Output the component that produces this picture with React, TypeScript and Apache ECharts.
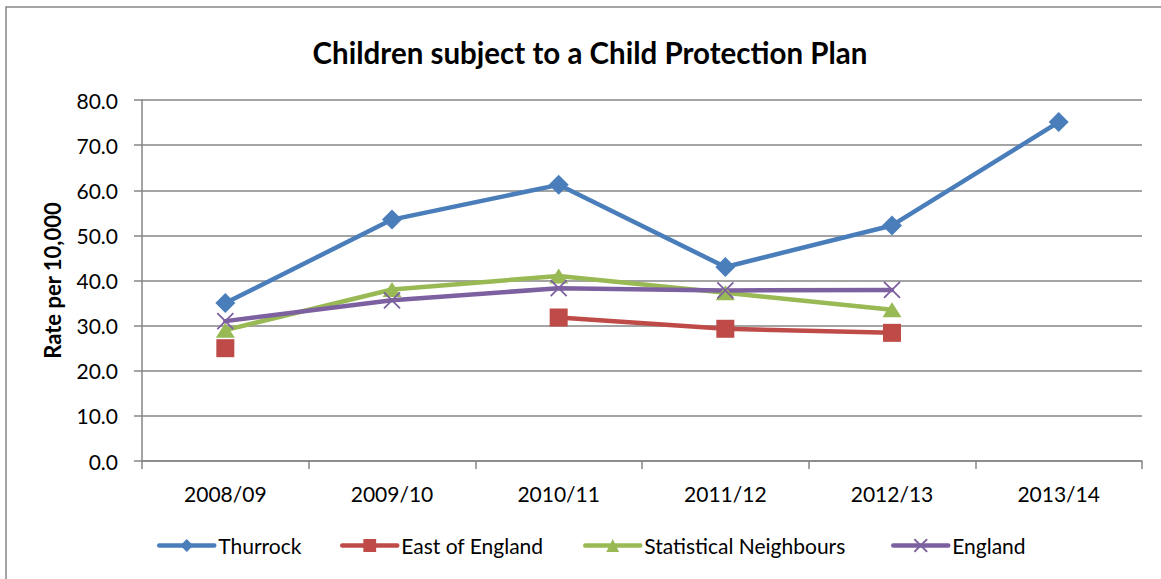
import React, { useEffect, useRef } from "react";
import * as echarts from "echarts";

const categories = ["2008/09", "2009/10", "2010/11", "2011/12", "2012/13", "2013/14"];
const thurrock = [35.0, 53.5, 61.2, 43.0, 52.2, 75.1];
const eastOfEngland = [25.0, null, 31.8, 29.3, 28.4, null];
const statNeighbours = [29.0, 38.0, 41.0, 37.3, 33.5, null];
const england = [31.0, 35.6, 38.3, 37.8, 37.9, null];
const yTicks = { min: 0, max: 80, interval: 10 };

const FONT = "Lato";
const AXIS_GREY = "#868686";

export default function App() {
  const ref = useRef<HTMLDivElement>(null);
  useEffect(() => {
    if (!ref.current) return;
    const chart = echarts.init(ref.current, null, { renderer: "svg" });
    const cross = "path://M0,0L10,10M10,0L0,10";
    const mk = (name: string, data: any[], color: string, symbol: string, size: any, extra: any = {}) => ({
      name,
      type: "line",
      data,
      symbol,
      symbolSize: size,
      showSymbol: true,
      connectNulls: false,
      lineStyle: { color, width: 4.5, cap: "round", join: "round" },
      itemStyle: { color, ...extra },
      z: 2,
    });
    chart.setOption({
      animation: false,
      textStyle: { fontFamily: FONT },
      title: {
        text: "Children subject to a Child Protection Plan",
        left: 585,
        textAlign: "center",
        top: 32,
        textStyle: { fontFamily: FONT, fontSize: 29.5, fontWeight: "bold", color: "#000" },
      },
      graphic: [
        {
          type: "rect",
          shape: { x: 6, y: 7, width: 1200, height: 620 },
          style: { fill: "none", stroke: AXIS_GREY, lineWidth: 1.5 },
          silent: true,
        },
      ],
      grid: { left: 142, right: 19, top: 100, bottom: 118, containLabel: false },
      xAxis: {
        type: "category",
        data: categories,
        boundaryGap: true,
        axisLine: { lineStyle: { color: AXIS_GREY, width: 1.5 } },
        axisTick: { show: true, length: 8, lineStyle: { color: AXIS_GREY, width: 1.5 } },
        axisLabel: { fontFamily: FONT, fontSize: 21, color: "#000", margin: 22 },
      },
      yAxis: {
        type: "value",
        min: yTicks.min,
        max: yTicks.max,
        interval: yTicks.interval,
        name: "Rate per 10,000",
        nameLocation: "middle",
        nameGap: 79,
        nameTextStyle: { fontFamily: FONT, fontSize: 22, fontWeight: "bold", color: "#000" },
        axisLine: { show: true, lineStyle: { color: AXIS_GREY, width: 1.5 } },
        axisTick: { show: true, length: 8, lineStyle: { color: AXIS_GREY, width: 1.5 } },
        axisLabel: {
          fontFamily: FONT,
          fontSize: 21,
          color: "#000",
          margin: 24,
          formatter: (v: number) => v.toFixed(1),
        },
        splitLine: { lineStyle: { color: AXIS_GREY, width: 1.5 } },
      },
      legend: [
        { name: "Thurrock", left: 157 },
        { name: "East of England", left: 340 },
        { name: "Statistical Neighbours", left: 583 },
        { name: "England", left: 891 },
      ].map((l) => ({
        data: [l.name],
        left: l.left,
        top: 535,
        padding: 0,
        itemWidth: 55,
        itemHeight: 16,
        itemGap: 0,
        lineStyle: { width: 4.5, cap: "round" },
        textStyle: { fontFamily: FONT, fontSize: 21, color: "#000", padding: [0, 0, 0, -1] },
      })),
      series: [
        mk("Thurrock", thurrock, "#4A7EBB", "diamond", 20),
        mk("East of England", eastOfEngland, "#BE4B48", "rect", 18),
        mk("Statistical Neighbours", statNeighbours, "#98B954", "triangle", [19, 15]),
        mk("England", england, "#7D60A0", cross, 16, { borderColor: "#7D60A0", borderWidth: 1.8 }),
      ],
    });
    return () => chart.dispose();
  }, []);
  return (
    <div
      ref={ref}
      style={{ position: "fixed", left: 0, top: 0, width: 1161, height: 579, background: "#fff" }}
    />
  );
}
